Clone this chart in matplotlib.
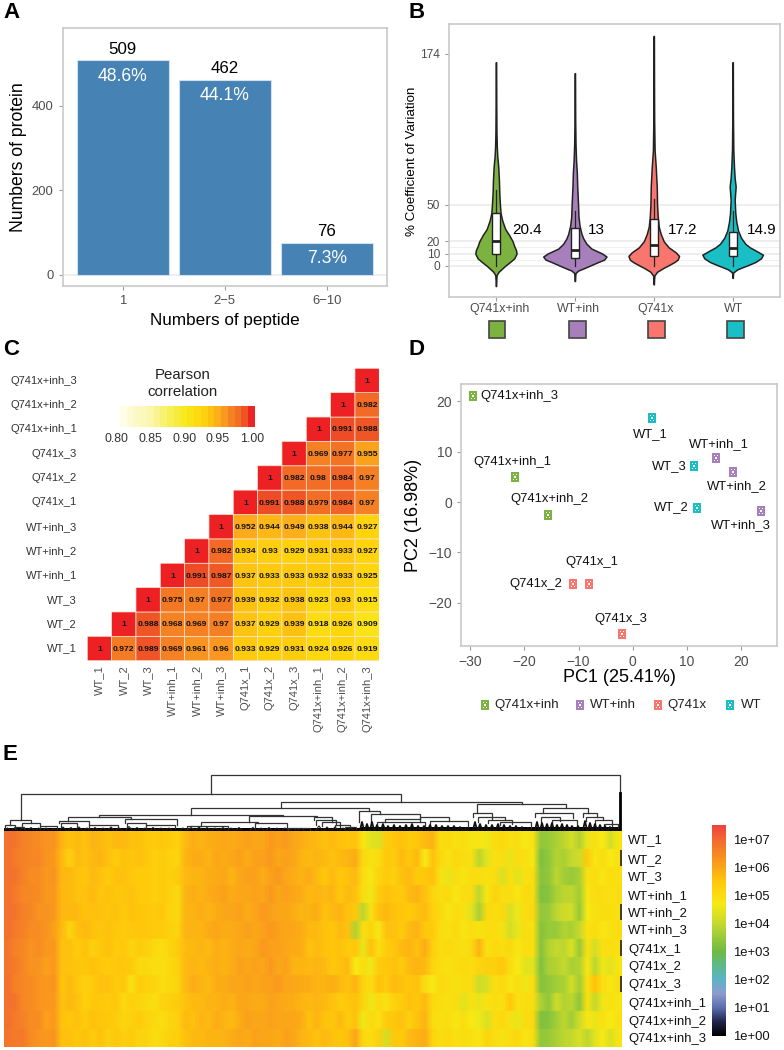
import numpy as np
import matplotlib
matplotlib.use("Agg")
import matplotlib.pyplot as plt
from matplotlib.colors import LinearSegmentedColormap
from matplotlib.lines import Line2D
from matplotlib.path import Path
from matplotlib.patches import Rectangle

plt.rcParams["font.family"] = ["Liberation Sans", "DejaVu Sans"]
W, H = 784, 1050
GREEN, PURPLE, RED, TEAL = "#7cb23f", "#a77fbb", "#f8766d", "#19bfc5"
TICK = "#4d4d4d"
BORDER = "#c9c9c9"

# ===== A : bars =====
peptide_bins = ["1", "2\u22125", "6\u221210"]
protein_counts = [509, 462, 76]
protein_pct = ["48.6%", "44.1%", "7.3%"]

# ===== B : violins (value, half width) =====
cv_groups = ["Q741x+inh", "WT+inh", "Q741x", "WT"]
cv_colors = [GREEN, PURPLE, RED, TEAL]
cv_medians = [20.4, 13, 17.2, 14.9]
cv_q1 = [10, 6.5, 8, 8]
cv_q3 = [43, 31, 38, 28]
cv_whisk = [62, 45, 55, 45]
green_y = [-16.7, -12, -7.7, -5, -2, 0, 3, 6, 10, 13, 16, 20, 25, 30, 37, 43, 50, 60, 70, 81, 90, 98, 110, 130, 167]
green_w = [0.5, 1, 2, 8, 20, 28, 42, 55, 62, 60, 55, 50, 40, 28, 19, 14, 12, 10, 9, 7, 4, 2.5, 1.5, 1, 0.5]
purple_y = [-12.6, -9, -6, -4, -2, 0, 3, 5, 7.5, 10, 14, 18, 22, 26, 33, 40, 54, 66, 76, 87, 100, 120, 158]
purple_w = [0.5, 1, 2, 10, 28, 45, 70, 88, 95, 82, 50, 35, 26, 20, 14, 11, 9, 7, 6, 3.5, 2, 1, 0.5]
red_y = [-15.3, -11, -8, -5, -2, 0, 3, 5, 8, 11, 15, 20, 26, 32, 40, 50, 65, 81, 95, 120, 150, 188.6]
red_w = [0.5, 1, 2, 10, 28, 42, 62, 72, 76, 66, 45, 30, 21, 15, 12, 10, 9, 6, 2.5, 1.2, 0.8, 0.5]
teal_y = [-10, -7, -5.5, -3, -1, 0, 3, 6, 9, 12, 15, 18, 23, 29, 36, 43, 54, 65, 72, 81, 95, 120, 167]
teal_w = [0.5, 1, 2, 14, 32, 42, 68, 85, 91, 72, 52, 38, 25, 16, 11, 8, 6, 9, 6, 4, 2, 1, 0.5]

# ===== C : correlation =====
samples = ["WT_1", "WT_2", "WT_3", "WT+inh_1", "WT+inh_2", "WT+inh_3",
           "Q741x_1", "Q741x_2", "Q741x_3", "Q741x+inh_1", "Q741x+inh_2", "Q741x+inh_3"]
corr_rows = [
    [1, .972, .989, .969, .961, .96, .933, .929, .931, .924, .926, .919],
    [1, .988, .968, .969, .97, .937, .929, .939, .918, .926, .909],
    [1, .975, .97, .977, .939, .932, .938, .923, .93, .915],
    [1, .991, .987, .937, .933, .933, .932, .933, .925],
    [1, .982, .934, .93, .929, .931, .933, .927],
    [1, .952, .944, .949, .938, .944, .927],
    [1, .991, .988, .979, .984, .97],
    [1, .982, .98, .984, .97],
    [1, .969, .977, .955],
    [1, .991, .988],
    [1, .982],
    [1],
]
corr_ticks = [0.80, 0.85, 0.90, 0.95, 1.00]

# ===== D : PCA =====
pc1 = [-29.5, -21.75, -15.65, -8.08, -11.1, -2.04, 3.5, 11.93, 11.26, 15.38, 18.46, 23.76]
pc2 = [21.06, 4.97, -2.58, -16.2, -16.2, -26.2, 16.75, -1.26, 7.2, 8.68, 5.96, -1.79]
pc_names = ["Q741x+inh_3", "Q741x+inh_1", "Q741x+inh_2", "Q741x_1", "Q741x_2", "Q741x_3",
            "WT_1", "WT_2", "WT_3", "WT+inh_1", "WT+inh_2", "WT+inh_3"]
pc_groups = [0, 0, 0, 2, 2, 2, 3, 3, 3, 1, 1, 1]

# ===== E : heatmap (log10 intensity), one list per sample =====
heat_WT_1 = [6.9, 6.8, 6.6, 6.5, 6.4, 6.3, 6.3,
             5.8, 5.6, 5.7, 5.6, 5.8, 5.7, 5.6, 5.7, 5.7, 5.6, 5.6,
             5.5, 5.4, 5.5, 5.4, 5.3,
             5.7, 5.9, 5.8, 5.9, 5.9, 6.0, 5.9, 6.0, 6.1, 6.0, 6.0, 6.2, 6.1, 6.2, 6.0,
             5.9, 5.8, 5.7,
             5.6, 5.7, 5.6, 5.5, 5.6,
             4.8, 4.4, 4.3,
             5.4, 5.5, 5.6, 5.4, 5.5, 5.7, 5.8,
             5.0, 5.1, 4.9, 5.0, 4.8,
             4.8, 4.6,
             5.0, 5.1, 4.9, 5.0, 4.7, 4.9,
             3.4, 3.5,
             3.7, 3.9, 4.2, 3.8,
             4.5,
             4.9, 4.7, 4.2, 4.8]
heat_WT_2 = [6.9, 6.7, 6.6, 6.5, 6.5, 6.3, 6.2,
             5.7, 5.3, 5.7, 5.6, 5.7, 5.8, 5.6, 5.4, 5.6, 5.5, 5.6,
             5.5, 5.3, 5.4, 5.3, 5.2,
             5.8, 5.9, 5.9, 5.8, 6.0, 5.9, 6.0, 6.1, 5.9, 6.1, 6.1, 6.2, 6.0, 6.1, 6.0,
             5.8, 5.7, 5.8,
             5.7, 5.6, 5.7, 5.8, 5.9,
             5.1, 4.9, 5.0,
             5.5, 5.4, 5.7, 5.5, 5.7, 4.7, 5.6,
             5.1, 4.9, 5.1, 5.0, 4.9,
             3.9, 4.4,
             4.9, 5.0, 4.5, 5.0, 4.9, 4.8,
             3.2, 3.4,
             3.8, 3.7, 4.0, 4.1,
             5.4,
             4.8, 5.0, 4.7, 4.9]
heat_WT_3 = [6.9, 6.8, 6.6, 6.4, 6.4, 6.2, 6.3,
             5.7, 5.7, 5.6, 5.5, 5.7, 5.6, 5.4, 5.6, 5.6, 5.5, 5.4,
             5.4, 5.3, 5.4, 5.3, 5.4,
             5.7, 5.8, 5.8, 5.9, 5.9, 6.0, 5.8, 6.0, 6.1, 6.1, 5.9, 6.1, 6.2, 6.0, 5.9,
             5.8, 5.9, 5.7,
             5.5, 5.7, 5.5, 5.6, 5.7,
             5.0, 4.8, 5.2,
             5.4, 5.3, 5.6, 5.7, 5.4, 5.5, 5.6,
             4.9, 4.5, 5.0, 4.8, 5.0,
             5.0, 4.9,
             5.0, 4.3, 5.0, 4.4, 4.9, 5.0,
             3.3, 3.4,
             3.9, 3.6, 3.5, 3.7,
             4.9,
             5.0, 4.8, 5.0, 4.9]
heat_WTi_1 = [6.9, 6.7, 6.5, 6.5, 6.4, 6.2, 6.2,
              5.7, 5.7, 5.6, 5.6, 5.7, 5.5, 5.6, 5.5, 5.5, 5.6, 5.4,
              5.4, 5.3, 5.4, 5.3, 5.1,
              5.8, 5.9, 5.8, 5.9, 6.0, 6.1, 5.9, 6.0, 6.0, 6.1, 6.0, 6.2, 6.0, 6.1, 6.0,
              5.9, 5.7, 5.8,
              5.7, 5.8, 5.5, 5.7, 5.6,
              5.0, 4.6, 5.4,
              5.6, 5.5, 5.4, 5.7, 5.8, 5.6, 5.2,
              5.0, 5.1, 4.8, 5.0, 5.0,
              3.9, 4.8,
              5.2, 5.0, 5.0, 4.8, 5.1, 5.0,
              3.2, 3.3,
              3.7, 3.9, 3.9, 3.6,
              4.8,
              5.0, 5.0, 4.9, 5.0]
heat_WTi_2 = [6.9, 6.8, 6.6, 6.5, 6.3, 6.3, 6.2,
              5.7, 5.7, 5.7, 5.6, 5.6, 5.6, 5.5, 5.6, 5.4, 5.6, 5.5,
              5.5, 5.4, 5.5, 5.2, 5.1,
              5.8, 5.8, 5.9, 5.8, 5.9, 6.0, 6.0, 6.1, 5.9, 6.0, 6.2, 6.1, 6.0, 6.0, 5.9,
              5.8, 5.8, 5.9,
              5.6, 5.7, 5.8, 5.6, 5.5,
              3.9, 4.9, 5.6,
              5.7, 5.6, 5.5, 5.4, 5.6, 5.7, 5.3,
              5.1, 4.8, 5.0, 4.9, 4.4,
              3.7, 5.1,
              5.0, 5.1, 4.3, 4.6, 5.0, 5.1,
              3.4, 3.5,
              3.9, 4.1, 4.2, 3.5,
              4.7,
              4.9, 5.0, 5.0, 4.9]
heat_WTi_3 = [6.9, 6.7, 6.6, 6.4, 6.4, 6.3, 6.1,
              5.7, 5.2, 5.6, 5.7, 5.6, 5.5, 5.6, 5.5, 5.4, 5.5, 5.5,
              5.5, 5.4, 5.4, 5.3, 5.2,
              5.8, 5.8, 5.8, 5.9, 6.0, 5.9, 5.9, 6.0, 6.1, 6.0, 6.1, 6.2, 6.1, 6.0, 6.0,
              5.9, 5.7, 5.7,
              5.6, 5.5, 5.7, 5.6, 3.8,
              5.0, 5.2, 4.8,
              5.6, 5.6, 5.4, 5.7, 5.8, 5.5, 5.4,
              5.0, 4.9, 5.1, 4.8, 5.0,
              4.9, 5.0,
              5.0, 4.9, 4.2, 4.5, 5.0, 4.9,
              3.3, 3.5,
              3.5, 3.8, 3.7, 4.0,
              4.9,
              5.0, 4.8, 4.9, 5.0]
heat_Q_1 = [6.8, 6.6, 6.5, 6.3, 6.4, 6.2, 6.2,
            5.6, 5.6, 5.4, 5.6, 5.3, 5.5, 5.6, 5.4, 5.5, 5.2, 5.4,
            5.3, 5.1, 5.0, 5.2, 5.4,
            5.7, 5.7, 5.8, 5.7, 5.9, 5.8, 5.9, 6.0, 5.9, 6.0, 6.2, 6.1, 6.1, 6.0, 5.9,
            5.9, 5.6, 5.7,
            5.6, 5.5, 5.6, 5.4, 5.5,
            4.5, 5.6, 5.0,
            5.4, 5.5, 5.7, 5.8, 5.6, 5.9, 5.3,
            5.0, 5.1, 5.0, 4.9, 5.1,
            5.8, 4.9,
            5.1, 5.0, 5.1, 4.8, 5.0, 4.9,
            3.3, 3.8,
            4.0, 3.9, 4.3, 3.5,
            4.9,
            4.2, 4.9, 5.0, 4.9]
heat_Q_2 = [6.8, 6.7, 6.5, 6.3, 6.3, 6.1, 6.2,
            5.6, 5.6, 5.5, 5.5, 5.6, 5.5, 5.4, 5.5, 5.5, 5.4, 5.1,
            5.1, 5.0, 5.0, 5.1, 5.3,
            5.7, 5.8, 5.7, 5.8, 5.9, 5.8, 5.9, 6.1, 6.0, 6.1, 6.0, 6.2, 6.0, 6.1, 5.8,
            5.8, 5.7, 5.8,
            5.7, 5.5, 5.6, 5.7, 4.7,
            5.0, 4.6, 5.4,
            5.5, 5.6, 5.4, 5.7, 5.8, 5.7, 5.2,
            5.0, 4.9, 5.0, 5.1, 5.0,
            5.2, 5.3,
            5.3, 5.5, 5.0, 4.7, 4.4, 4.4,
            3.2, 3.7,
            3.8, 4.0, 3.7, 3.8,
            4.8,
            3.9, 4.6, 4.4, 4.8]
heat_Q_3 = [6.9, 6.6, 6.5, 6.4, 6.3, 6.2, 6.3,
            5.5, 5.7, 5.5, 5.3, 5.4, 5.6, 5.6, 5.4, 5.5, 4.9, 5.4,
            5.3, 5.2, 5.0, 5.1, 5.2,
            5.7, 5.9, 5.8, 5.7, 5.9, 5.9, 6.0, 6.0, 6.1, 6.0, 6.1, 6.1, 6.2, 6.0, 6.0,
            5.9, 5.9, 5.8,
            5.8, 5.9, 5.7, 5.6, 5.8,
            5.2, 5.0, 5.6,
            5.4, 5.7, 5.6, 5.5, 5.6, 5.0, 4.7,
            5.1, 5.0, 4.9, 5.0, 5.0,
            4.1, 4.3,
            5.0, 5.1, 4.8, 5.0, 4.6, 5.0,
            3.3, 3.4,
            3.6, 3.7, 4.2, 3.6,
            4.9,
            5.6, 5.0, 4.8, 5.0]
heat_Qi_1 = [6.9, 6.8, 6.5, 6.4, 6.3, 6.2, 6.2,
             5.6, 5.7, 5.6, 5.3, 5.5, 5.5, 5.4, 5.5, 5.1, 5.3, 5.2,
             5.1, 5.0, 5.2, 5.3, 5.4,
             5.6, 5.7, 5.7, 5.8, 5.8, 5.9, 5.8, 6.0, 6.0, 5.9, 5.9, 6.1, 6.0, 5.9, 5.9,
             5.8, 5.7, 5.8,
             5.7, 5.6, 5.4, 5.5, 5.6,
             5.2, 4.6, 5.1,
             4.9, 5.3, 5.4, 5.6, 5.5, 5.7, 5.1,
             5.0, 4.9, 5.0, 4.4, 4.9,
             4.5, 4.9,
             5.0, 4.9, 5.5, 4.9, 5.0, 5.0,
             3.7, 3.4,
             4.1, 3.8, 3.9, 3.4,
             4.9,
             4.0, 4.6, 4.9, 4.8]
heat_Qi_2 = [6.9, 6.7, 6.6, 6.4, 6.4, 6.1, 6.2,
             5.6, 5.5, 5.6, 5.4, 5.6, 5.5, 5.5, 5.4, 5.2, 5.3, 5.4,
             5.2, 5.1, 5.0, 5.2, 5.3,
             5.7, 5.6, 5.8, 5.7, 5.9, 5.8, 5.7, 5.9, 6.1, 6.0, 6.0, 6.1, 6.0, 6.0, 6.0,
             5.9, 5.6, 5.8,
             5.6, 5.5, 5.7, 5.4, 5.6,
             4.6, 5.1, 4.9,
             5.4, 5.5, 5.6, 5.3, 5.6, 5.8, 5.0,
             4.9, 5.0, 4.8, 5.0, 4.7,
             4.6, 4.3,
             5.0, 5.1, 4.9, 4.5, 5.0, 5.1,
             3.2, 3.3,
             3.6, 3.9, 3.6, 4.1,
             4.8,
             4.5, 4.9, 4.7, 4.9]
heat_Qi_3 = [6.8, 6.7, 6.7, 6.4, 6.3, 6.2, 6.3,
             5.6, 5.6, 5.5, 5.6, 5.4, 5.6, 5.3, 5.5, 5.3, 5.4, 5.2,
             5.2, 5.0, 5.1, 5.3, 5.3,
             5.6, 5.7, 5.7, 5.8, 5.8, 5.8, 5.9, 6.0, 5.9, 6.1, 6.0, 6.0, 5.9, 6.1, 6.0,
             5.8, 5.7, 5.6,
             5.7, 5.6, 5.5, 5.6, 6.0,
             5.1, 5.0, 5.3,
             4.2, 5.5, 5.4, 5.7, 5.8, 5.9, 5.2,
             5.0, 5.1, 4.9, 5.0, 4.9,
             4.8, 5.2,
             5.0, 4.9, 5.0, 5.1, 4.8, 5.0,
             3.4, 3.5,
             3.7, 3.9, 4.0, 4.3,
             3.9,
             4.4, 4.7, 4.3, 4.8]
heat_rows = [heat_WT_1, heat_WT_2, heat_WT_3, heat_WTi_1, heat_WTi_2, heat_WTi_3,
             heat_Q_1, heat_Q_2, heat_Q_3, heat_Qi_1, heat_Qi_2, heat_Qi_3]
heat_names = samples
heat_label_y = [840, 860, 877, 896, 913, 930, 950, 967, 985, 1004, 1022, 1039]
dark_mark_rows = [1, 4, 6, 8]
cbar_labels = ["1e+00", "1e+01", "1e+02", "1e+03", "1e+04", "1e+05", "1e+06", "1e+07"]

# dendrogram nodes : left x, right x, height, left child height, right child height
tree_nodes = [
    (211, 620.5, 56.3, 37, 35), (21, 401, 37, 11, 29.3), (281, 521.7, 29.3, 23.3, 26.7),
    (191, 369, 23.3, 16, 20.3), (476.7, 566, 26.7, 17.7, 22.7), (543, 588, 22.7, 17.7, 17.7),
    (10, 31, 11, 6, 7.7), (22, 40, 7.7, 4, 5), (5, 15, 6, 3, 3), (40, 57, 5, 2, 2), (15, 24, 4, 2, 2),
    (99, 283, 16, 14, 15), (68, 131, 14, 10, 11.7), (59, 89, 10, 8, 6), (61, 77, 8, 4, 4),
    (89, 118, 6, 2, 3), (125, 177, 11.7, 8, 6), (127, 146, 8, 4, 5), (146, 175, 6, 3, 3),
    (249, 317, 15, 8.7, 14), (201, 258, 8.7, 5.5, 7.7), (187, 228, 5.5, 2, 2), (255, 287, 7.7, 3, 3),
    (288, 310, 3, 1.5, 1.5), (314, 332, 14, 11, 9), (316, 336, 11, 6, 6), (322, 340, 9, 5, 4),
    (335, 350, 6, 3, 3), (345, 356, 4, 2, 2),
    (359, 380, 20.3, 9, 17), (371, 420, 17, 9, 11.7), (385, 420, 11.7, 9, 9), (377, 425, 9, 5, 5),
    (430, 468, 10, 5, 4), (420, 449, 14, 11.7, 10),
    (472.7, 492, 17.7, 14, 12), (478, 505, 14, 9, 11), (488, 512, 11, 8, 7), (500, 531, 9, 6, 3),
    (535, 573, 17.7, 14, 13), (541, 560, 14, 9, 10), (552, 577, 11, 8, 6),
    (583, 597, 17.7, 14, 14), (586, 603, 14, 10, 11), (595, 612, 11, 7, 5), (604, 618, 7, 4, 3),
]
left_leaves = [(5, 10, 3), (12, 18, 3.5), (20, 26, 3), (28, 34, 3.5), (36, 41, 3), (43, 49, 3), (51, 56, 2.5),
               (60, 66, 4), (68, 74, 3.5), (76, 82, 4), (84, 90, 3), (92, 98, 3.5), (100, 106, 3), (108, 114, 4),
               (116, 122, 3), (126, 132, 4.5), (134, 140, 3.5), (142, 148, 3), (150, 156, 3.5), (158, 164, 3),
               (166, 172, 3), (180, 186, 3), (188, 194, 3.5), (196, 202, 4), (204, 210, 3.5), (212, 218, 3),
               (220, 226, 3.5), (228, 234, 3), (236, 242, 3.5), (250, 256, 3.5), (258, 264, 3), (266, 272, 3.5),
               (274, 280, 3), (282, 288, 3), (290, 296, 2.5), (298, 304, 2.5), (316, 322, 5), (324, 330, 4),
               (332, 338, 4), (340, 346, 3), (348, 354, 2.5)]
right_leaves = [(360, 364, 9), (365, 369, 7), (370, 374, 9), (375, 379, 6), (381, 385, 7), (386, 390, 5),
                (392, 396, 6), (398, 402, 5), (404, 408, 6), (410, 414, 7), (416, 420, 5), (422, 426, 5),
                (428, 432, 6), (434, 438, 6), (440, 444, 5), (446, 450, 5), (452, 456, 5), (458, 462, 4),
                (464, 468, 3), (473, 477, 9), (478, 482, 7), (484, 488, 6), (490, 494, 6), (496, 500, 7),
                (502, 506, 6), (508, 512, 5), (514, 518, 5), (520, 524, 4), (526, 530, 3), (535, 539, 9),
                (540, 544, 8), (545, 549, 7), (550, 554, 8), (555, 559, 6), (560, 564, 7), (565, 569, 6),
                (570, 574, 5), (576, 580, 5), (583, 587, 10), (588, 592, 8), (593, 597, 7), (598, 602, 6),
                (603, 607, 5), (608, 612, 4), (613, 617, 3)]


def box(left, top, right, bottom, **kw):
    return fig.add_axes([left / W, 1 - bottom / H, (right - left) / W, (bottom - top) / H], **kw)


def ftext(x, y, s, ha="center", **kw):
    kw.setdefault("va", "center")
    fig.text(x / W, 1 - y / H, s, ha=ha, **kw)


def frame(ax):
    for sp in ax.spines.values():
        sp.set_color(BORDER)
        sp.set_linewidth(1.2)
    ax.tick_params(color="#9a9a9a", labelcolor=TICK, length=3, width=0.8)


fig = plt.figure(figsize=(W / 100, H / 100), dpi=100)

for letter, x, y in [("A", 3, 12), ("B", 408, 12), ("C", 3, 349), ("D", 408, 350), ("E", 3, 755)]:
    ftext(x, y, letter, ha="left", fontsize=16, fontweight="bold", color="black")

# ----- A -----
ax = box(62.5, 28, 387, 286)
ax.axhline(0, color="#ebebeb", lw=1.2, zorder=0)
xs = np.arange(1, 4)
ax.bar(xs, protein_counts, width=0.9, color="#4682b4", edgecolor="#cfe0ee", linewidth=0.8)
for x, n, p in zip(xs, protein_counts, protein_pct):
    ax.annotate(str(n), (x, n), xytext=(0, 11), textcoords="offset pixels", ha="center", va="center",
                fontsize=12.2, color="black")
    ax.annotate(p, (x, n), xytext=(0, -16), textcoords="offset pixels", ha="center", va="center",
                fontsize=12.7, color="white")
ax.set_xlim(0.41, 3.59)
ax.set_ylim(-27, 585)
ax.set_xticks(xs, peptide_bins, fontsize=9.4)
ax.set_yticks([0, 200, 400], ["0", "200", "400"], fontsize=9.4)
frame(ax)
ftext(19, 157, "Numbers of protein", rotation=90, fontsize=12.7)
ftext(225, 321, "Numbers of peptide", fontsize=12.3)

# ----- B -----
ax = box(449, 24, 780, 297)
for v in [0, 10, 20, 50]:
    ax.axhline(v, color="#ebebeb", lw=1.2, zorder=0)
for v in [5, 15]:
    ax.axhline(v, color="#f0f0f0", lw=0.7, zorder=0)
violins = [(green_y, green_w), (purple_y, purple_w), (red_y, red_w), (teal_y, teal_w)]
for i, (vy, vw) in enumerate(violins):
    c = i + 1
    half = np.array(vw) / 237
    ax.fill_betweenx(vy, c - half, c + half, facecolor=cv_colors[i], edgecolor="#222222", linewidth=1.1, zorder=2)
    ax.plot([c, c], [0, cv_whisk[i]], color="#222222", lw=0.9, zorder=3)
    ax.add_patch(Rectangle((c - 0.05, cv_q1[i]), 0.1, cv_q3[i] - cv_q1[i], facecolor="white",
                           edgecolor="#222222", lw=1.0, zorder=4))
    ax.plot([c - 0.05, c + 0.05], [cv_medians[i]] * 2, color="#222222", lw=2, zorder=5, solid_capstyle="butt")
ax.set_xlim(0.405, 4.6)
ax.set_ylim(-25.7, 198.4)
ax.set_xticks([1, 2, 3, 4], [])
ax.set_yticks([0, 10, 20, 50, 174], ["0", "10", "20", "50", "174"], fontsize=8.6)
frame(ax)
ftext(412, 161, "% Coefficient of Variation", rotation=90, fontsize=9.6)
for x, g in zip([500, 578, 656, 734], cv_groups):
    ftext(x, 309, g, fontsize=8.9, color=TICK)
for x, m in zip([527, 596, 683, 762], cv_medians):
    ftext(x, 230, str(m), fontsize=11, color="black")
for x, c in zip([497, 577, 656, 735], cv_colors):
    fig.add_artist(Rectangle(((x - 8.5) / W, 1 - 337.5 / H), 17 / W, 17 / H, transform=fig.transFigure,
                             facecolor=c, edgecolor="#444444", lw=1.2))

# ----- C -----
corr_cmap = LinearSegmentedColormap.from_list("corr", [
    (0.0, "#fffff2"), (0.25, "#fbf6a8"), (0.5, "#f7ea1c"), (0.63, "#ffd60c"), (0.70, "#fdc012"),
    (0.76, "#fcaa1c"), (0.85, "#f58024"), (0.91, "#f26a25"), (0.955, "#ee4d27"), (1.0, "#ed2024")])
n = len(samples)
corr = np.full((n, n), np.nan)
for i, row in enumerate(corr_rows):
    corr[i, i:] = row
ax = box(87.3, 368.3, 379.3, 660.7)
ax.pcolor(np.arange(n + 1), np.arange(n + 1), np.ma.masked_invalid(corr), cmap=corr_cmap, vmin=0.8, vmax=1,
          edgecolors="#fbe3d0", linewidth=0.5)
for i, row in enumerate(corr_rows):
    for j, v in enumerate(row):
        ax.text(i + j + 0.5, i + 0.47, f"{v:g}", ha="center", va="center",
                fontsize=6.1, fontweight="bold", color="#111111")
ax.set_xlim(0, n)
ax.set_ylim(0, n)
ax.set_xticks([])
ax.set_yticks([])
for sp in ax.spines.values():
    sp.set_visible(False)
for i, s in enumerate(samples):
    ftext(77, 660.7 - (i + 0.5) * 24.36, s, ha="right", fontsize=8, color="#333333")
    ftext(87.3 + (i + 0.5) * 24.33, 665, s, rotation=90, va="top", fontsize=8, color=TICK)
ftext(183, 375, "Pearson", fontsize=10.8, color="#222222")
ftext(183, 392, "correlation", fontsize=10.8, color="#222222")
lax = box(120, 406, 255, 427)
steps = np.arange(20).reshape(1, -1)
lax.imshow(0.804 + (steps + 0.5) * 0.01, cmap=corr_cmap, vmin=0.8, vmax=1, aspect="auto",
           extent=(0.804, 1.004, 0, 1), interpolation="nearest")
lax.axis("off")
for t in corr_ticks:
    ftext(116.7 + (t - 0.8) * 675, 439, f"{t:.2f}", fontsize=8.9, color="#333333")

# ----- D -----
square = Path.unit_rectangle().deepcopy()
verts = (square.vertices - 0.5) * 2 * [0.8, 1.0]
parts = [Path(verts, square.codes)]
for dx, dy in [(-0.38, -0.55), (0.38, -0.55), (0, 0), (-0.38, 0.55), (0.38, 0.55)]:
    dot = np.array([[dx - 0.14, dy - 0.14], [dx - 0.14, dy + 0.14], [dx + 0.14, dy + 0.14],
                    [dx + 0.14, dy - 0.14], [dx - 0.14, dy - 0.14]])
    parts.append(Path(dot, [Path.MOVETO, Path.LINETO, Path.LINETO, Path.LINETO, Path.CLOSEPOLY]))
dot_square = Path.make_compound_path(*parts)

ax = box(461, 384.3, 776.7, 645.7)
label_off = [(46.7, 0), (-2.7, 15), (1, 16.3), (2.7, 22), (-36.7, 0), (-1, 14.7),
             (-1, -16.7), (-26, 1.3), (-24.3, 0), (2.7, 14.7), (4, -13.7), (-20.7, -14)]
for x, y, name, g, off in zip(pc1, pc2, pc_names, pc_groups, label_off):
    ax.plot([x], [y], marker=dot_square, ms=6.6, color=cv_colors[g], mew=0, ls="none")
    ax.annotate(name, (x, y), xytext=off, textcoords="offset pixels", ha="center", va="center",
                fontsize=9.4, color="#111111")
ax.set_xlim(-31.7, 26.6)
ax.set_ylim(-28.55, 23.4)
ax.set_xticks([-30, -20, -10, 0, 10, 20], ["\u221230", "\u221220", "\u221210", "0", "10", "20"], fontsize=10)
ax.set_yticks([-20, -10, 0, 10, 20], ["\u221220", "\u221210", "0", "10", "20"], fontsize=10)
frame(ax)
ftext(619, 677, "PC1 (25.41%)", fontsize=13)
ftext(413, 515, "PC2 (16.98%)", rotation=90, fontsize=13)
for mx, tx, g, c in zip([485, 580, 658, 730], [494.5, 590, 667, 741], cv_groups, cv_colors):
    fig.add_artist(Line2D([mx / W], [1 - 705 / H], transform=fig.transFigure, marker=dot_square, ms=6.6,
                          color=c, mew=0, ls="none"))
    ftext(tx, 705, g, ha="left", fontsize=9.5, color="#222222")

# ----- E -----
heat_cmap = LinearSegmentedColormap.from_list("heat", [
    (0.0, "#000000"), (0.5 / 7.55, "#20264a"), (1 / 7.55, "#5a6eb0"), (1.5 / 7.55, "#8f9ccb"),
    (2 / 7.55, "#5bb4c8"), (2.5 / 7.55, "#5fb98a"), (3 / 7.55, "#6dbb45"), (4 / 7.55, "#c5d92d"),
    (4.7 / 7.55, "#f7ea14"), (5.5 / 7.55, "#ffc80b"), (6.2 / 7.55, "#fa9a1d"), (7 / 7.55, "#f26a30"),
    (1.0, "#ef4040")])
# rows stay sharp, columns get blurred a little like the resampled original
heat = np.repeat(np.array(heat_rows), 12, axis=0)
ax = box(4, 831, 621.7, 1046.7)
ax.imshow(heat, cmap=heat_cmap, vmin=0, vmax=7.55, aspect="auto", interpolation="bilinear",
          extent=(0, 80, 12, 0))
for r in dark_mark_rows:
    ax.vlines(79.95, r + 0.05, r + 0.95, color="#111111", lw=1.1, clip_on=False)
ax.axis("off")
for y, s in zip(heat_label_y, heat_names):
    ftext(628, y, s, ha="left", fontsize=9.4, color="#111111")

dax = box(4, 774, 621.7, 831)
dax.set_xlim(4, 621.7)
dax.set_ylim(0, 57)
dax.axis("off")
for xl, xr, h, hl, hr in tree_nodes:
    dax.plot([xl, xl, xr, xr], [hl, h, h, hr], color="#333333", lw=0.9, solid_joinstyle="miter")
for xl, xr, h in left_leaves:
    dax.plot([xl, (xl + xr) / 2, xr], [1, h, 1], color="#222222", lw=0.8)
for xl, xr, h in right_leaves:
    dax.plot([xl, (xl + xr) / 2, xr], [1, h, 1], color="#111111", lw=1.3)
dax.fill_between([4, 360], 0, 3, color="black", lw=0)
dax.fill_between([360, 621], 0, 4.5, color="black", lw=0)
dax.plot([620.5, 620.5], [0, 38], color="black", lw=2)

cax = box(712.3, 825, 726, 1036.5)
cax.imshow(np.linspace(7.55, 0, 256).reshape(-1, 1), cmap=heat_cmap, vmin=0, vmax=7.55, aspect="auto")
cax.axis("off")
for i, s in enumerate(cbar_labels):
    ftext(733, 1036.7 - i * 28, s, ha="left", fontsize=9.4, color="#111111")

fig.savefig("out.png", dpi=100)
